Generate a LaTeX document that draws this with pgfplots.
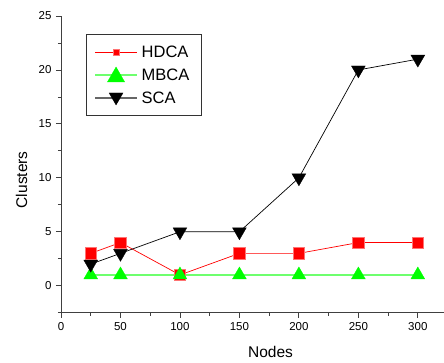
\documentclass[border=0pt]{standalone}
\usepackage{pgfplots}
\pgfplotsset{compat=1.18}
\usepackage{fontspec}
\setmainfont{Liberation Sans}
\definecolor{mgreen}{RGB}{0,255,0}
\definecolor{lgreen}{RGB}{110,255,110}
\begin{document}
\begin{tikzpicture}
\useasboundingbox (0pt,0pt) rectangle (444pt,363pt);
\begin{axis}[
  at={(61pt,50.3pt)}, anchor=south west,
  scale only axis, width=383pt, height=296.7pt,
  xmin=0, xmax=322, ymin=-2.5, ymax=25,
  axis x line*=bottom, axis y line*=left,
  axis line style={line width=0.9pt, black!75},
  xtick={0,50,...,300}, ytick={0,5,...,25},
  minor xtick={25,75,...,325}, minor ytick={-2.5,2.5,...,22.5},
  tick align=outside,
  major tick length=5pt, minor tick length=3pt,
  tick style={line width=0.8pt, black!75},
  tick label style={font=\fontsize{11.5}{12}\selectfont},
  /pgf/number format/assume math mode=true,
  xticklabel style={yshift=-1pt},
  yticklabel style={xshift=-1pt},
  xlabel={Nodes}, ylabel={Clusters},
  label style={font=\fontsize{15.5}{16}\selectfont},
  xlabel style={at={(axis description cs:0.547,0)}, anchor=center, yshift=-39pt},
  every axis y label/.append style={at={(axis description cs:-0.103,0.448)}, anchor=center, rotate=0},
  legend style={at={(axis description cs:0.0653,0.939)}, anchor=north west,
    draw=black!80, line width=0.8pt, inner xsep=8pt, inner ysep=6pt,
    font=\fontsize{16.5}{17}\selectfont,
    nodes={text height=12pt, text depth=0pt, inner ysep=5.5pt, inner xsep=4pt},
    row sep=0pt},
  legend cell align=left,
]
\addplot[red, line width=0.7pt, mark=square*, mark size=5.8pt,
  mark options={fill=red, draw=red!55!white, line width=0.5pt, solid},
  legend image code/.code={
    \draw[red, line width=0.7pt] (0pt,0pt) -- (42pt,0pt);
    \draw[red, fill=red, line width=0.3pt] plot[mark=square*, mark size=3pt] coordinates {(21pt,0pt)};
  }]
coordinates {(25,3) (50,4) (100,1) (150,3) (200,3) (250,4) (300,4)};
\addlegendentry{HDCA}
\addplot[lgreen, line width=1.3pt, mark=triangle*, mark size=8pt,
  mark options={fill=mgreen, draw=mgreen, line width=0.3pt, solid},
  legend image code/.code={
    \draw[lgreen, line width=1.3pt] (0pt,0pt) -- (42pt,0pt);
    \draw[mgreen, fill=mgreen, line width=0.3pt] plot[mark=triangle*, mark size=10pt] coordinates {(21pt,-2pt)};
  }]
coordinates {(25,1) (50,1) (100,1) (150,1) (200,1) (250,1) (300,1)};
\addlegendentry{MBCA}
\addplot[black, line width=0.7pt, mark=triangle*, mark size=8pt,
  mark options={fill=black, draw=black, line width=0.3pt, solid, rotate=180},
  legend image code/.code={
    \draw[black!60, line width=1.3pt] (0pt,0pt) -- (42pt,0pt);
    \draw[black, fill=black, line width=0.3pt] plot[mark=triangle*, mark size=8pt, mark options={rotate=180}] coordinates {(21pt,1pt)};
  }]
coordinates {(25,2) (50,3) (100,5) (150,5) (200,10) (250,20) (300,21)};
\addlegendentry{SCA}
\end{axis}
\end{tikzpicture}
\end{document}
